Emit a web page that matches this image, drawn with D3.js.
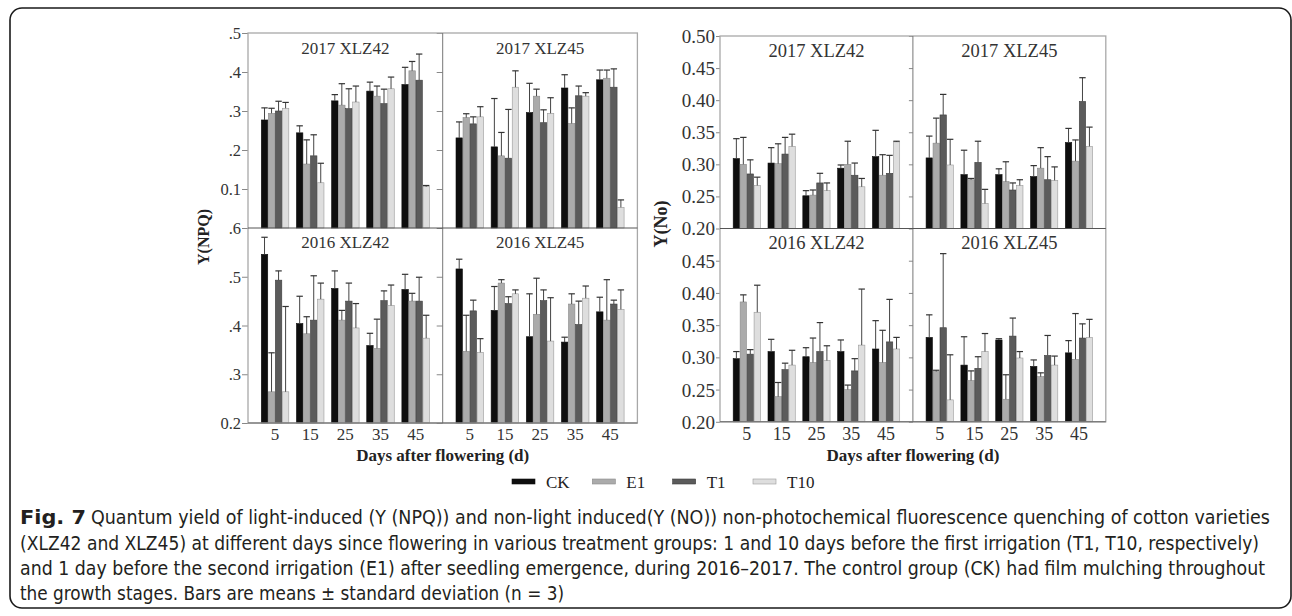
<!DOCTYPE html>
<html><head><meta charset="utf-8">
<script src="https://cdn.jsdelivr.net/npm/d3@7"></script>
<style>body{margin:0;background:#fff}</style></head>
<body>
<svg id="c" width="1292" height="616"></svg>
<script>
// ---------- data ----------
const days = [5, 15, 25, 35, 45];
const treatments = ["CK", "E1", "T1", "T10"];
const panelTitles = ["2017 XLZ42", "2017 XLZ45", "2016 XLZ42", "2016 XLZ45"];

// Y(NPQ) means, rows = CK, E1, T1, T10 ; columns = days
const npq17x42Mean = [[0.277,0.244,0.326,0.351,0.368],[0.294,0.164,0.315,0.338,0.403],[0.300,0.185,0.306,0.319,0.379],[0.307,0.116,0.323,0.357,0.106]];
const npq17x42Sd   = [[0.031,0.018,0.016,0.023,0.044],[0.013,0.062,0.055,0.026,0.024],[0.025,0.054,0.051,0.037,0.067],[0.015,0.050,0.041,0.030,0.003]];
const npq17x45Mean = [[0.231,0.208,0.296,0.359,0.380],[0.283,0.185,0.338,0.268,0.384],[0.267,0.179,0.270,0.339,0.361],[0.285,0.361,0.294,0.338,0.053]];
const npq17x45Sd   = [[0.041,0.124,0.075,0.034,0.025],[0.010,0.060,0.018,0.040,0.021],[0.018,0.125,0.033,0.025,0.047],[0.026,0.042,0.040,0.009,0.019]];
const npq16x42Mean = [[0.546,0.404,0.476,0.359,0.474],[0.264,0.383,0.411,0.353,0.450],[0.493,0.411,0.450,0.451,0.450],[0.264,0.454,0.395,0.441,0.374]];
const npq16x42Sd   = [[0.035,0.056,0.036,0.025,0.031],[0.080,0.035,0.020,0.060,0.016],[0.019,0.091,0.037,0.020,0.049],[0.175,0.033,0.050,0.042,0.047]];
const npq16x45Mean = [[0.516,0.431,0.377,0.366,0.428],[0.347,0.487,0.423,0.444,0.411],[0.430,0.445,0.451,0.402,0.444],[0.345,0.465,0.368,0.456,0.433]];
const npq16x45Sd   = [[0.020,0.049,0.088,0.010,0.030],[0.074,0.007,0.074,0.021,0.083],[0.022,0.014,0.022,0.048,0.008],[0.028,0.008,0.089,0.025,0.040]];

// Y(NO)
const no17x42Mean = [[0.309,0.302,0.251,0.294,0.312],[0.300,0.301,0.252,0.300,0.283],[0.285,0.316,0.271,0.283,0.286],[0.267,0.328,0.259,0.265,0.335]];
const no17x42Sd   = [[0.031,0.024,0.008,0.005,0.041],[0.042,0.031,0.008,0.036,0.032],[0.022,0.026,0.015,0.019,0.028],[0.013,0.019,0.012,0.013,0.001]];
const no17x45Mean = [[0.310,0.284,0.284,0.281,0.334],[0.333,0.276,0.273,0.294,0.305],[0.377,0.303,0.260,0.276,0.398],[0.299,0.239,0.267,0.275,0.328]];
const no17x45Sd   = [[0.034,0.038,0.009,0.017,0.022],[0.039,0.002,0.031,0.032,0.033],[0.032,0.033,0.011,0.036,0.037],[0.040,0.022,0.009,0.021,0.030]];
const no16x42Mean = [[0.298,0.309,0.301,0.309,0.313],[0.386,0.239,0.292,0.250,0.292],[0.305,0.281,0.309,0.279,0.324],[0.370,0.288,0.295,0.319,0.313]];
const no16x42Sd   = [[0.011,0.019,0.014,0.018,0.044],[0.011,0.022,0.038,0.007,0.050],[0.007,0.010,0.045,0.019,0.066],[0.042,0.023,0.023,0.087,0.018]];
const no16x45Mean = [[0.331,0.288,0.327,0.286,0.307],[0.278,0.264,0.235,0.270,0.297],[0.346,0.283,0.333,0.303,0.330],[0.234,0.309,0.299,0.288,0.331]];
const no16x45Sd   = [[0.035,0.044,0.002,0.010,0.019],[0.002,0.015,0.038,0.006,0.071],[0.115,0.018,0.028,0.031,0.022],[0.070,0.028,0.010,0.014,0.028]];

// tick values / labels
const npqTopTicks = [0.1, 0.2, 0.3, 0.4, 0.5];
const npqTopLabels = ["0.1", ".2", ".3", ".4", ".5"];
const npqBotTicks = [0.2, 0.3, 0.4, 0.5, 0.6];
const npqBotLabels = ["0.2", ".3", ".4", ".5", ".6"];
const noTopTicks = [0.20, 0.25, 0.30, 0.35, 0.40, 0.45, 0.50];
const noTopLabels = ["0.20", "0.25", "0.30", "0.35", "0.40", "0.45", "0.50"];
const noBotTicks = [0.20, 0.25, 0.30, 0.35, 0.40, 0.45];
const noBotLabels = ["0.20", "0.25", "0.30", "0.35", "0.40", "0.45"];

const captionLines = [
  "Quantum yield of light-induced (Y (NPQ)) and non-light induced(Y (NO)) non-photochemical fluorescence quenching of cotton varieties",
  "(XLZ42 and XLZ45) at different days since flowering in various treatment groups: 1 and 10 days before the first irrigation (T1, T10, respectively)",
  "and 1 day before the second irrigation (E1) after seedling emergence, during 2016\u20132017. The control group (CK) had film mulching throughout",
  "the growth stages. Bars are means \u00b1 standard deviation (n = 3)"
];

// ---------- styles ----------
const fills = ["#0e0e0e", "#ababab", "#5b5b5b", "#dedede"];
const strokes = ["#0e0e0e", "#8a8a8a", "#3c3c3c", "#9a9a9a"];
const serif = "'Liberation Serif','Times New Roman',serif";

const svg = d3.select("#c");

// outer frame
svg.append("rect").attr("x", 10).attr("y", 8).attr("width", 1281).attr("height", 600)
  .attr("rx", 12).attr("fill", "none").attr("stroke", "#1a1a1a").attr("stroke-width", 1.6);

const charts = [
  {x0: 248, w: 194.7, top: 33, mid: 228, bot: 423,
   domTop: [0, 0.5], domBot: [0.2, 0.6],
   ticksTop: npqTopTicks, labTop: npqTopLabels, ticksBot: npqBotTicks, labBot: npqBotLabels,
   data: [[npq17x42Mean, npq17x42Sd], [npq17x45Mean, npq17x45Sd], [npq16x42Mean, npq16x42Sd], [npq16x45Mean, npq16x45Sd]],
   tickFont: 16.5, titleFont: 17, xFont: 17, yTitle: "Y(NPQ)", yTitleX: 209, yTitleY: 237, yTitleFont: 16, tickLen: 6},
  {x0: 720, w: 192.9, top: 36, mid: 228.5, bot: 421.8,
   domTop: [0.2, 0.5], domBot: [0.2, 0.5],
   ticksTop: noTopTicks, labTop: noTopLabels, ticksBot: noBotTicks, labBot: noBotLabels,
   data: [[no17x42Mean, no17x42Sd], [no17x45Mean, no17x45Sd], [no16x42Mean, no16x42Sd], [no16x45Mean, no16x45Sd]],
   tickFont: 19, titleFont: 18.5, xFont: 18, yTitle: "Y(No)", yTitleX: 667, yTitleY: 224, yTitleFont: 18, tickLen: 4}
];

charts.forEach(ch => {
  const g = svg.append("g");
  const rows = [
    {y0: ch.top, y1: ch.mid, dom: ch.domTop, ticks: ch.ticksTop, labs: ch.labTop},
    {y0: ch.mid, y1: ch.bot, dom: ch.domBot, ticks: ch.ticksBot, labs: ch.labBot}
  ];
  rows.forEach((r, ri) => {
    const y = d3.scaleLinear().domain(r.dom).range([r.y1, r.y0]);
    for (let ci = 0; ci < 2; ci++) {
      const px0 = ch.x0 + ci * ch.w, px1 = px0 + ch.w;
      const pIdx = ri * 2 + ci;
      const [means, sds] = ch.data[pIdx];
      const x = d3.scaleBand().domain(days).range([px0, px1]).paddingInner(0.2).paddingOuter(0.37);
      const xs = d3.scaleBand().domain(treatments).range([0, x.bandwidth()]);
      const pg = g.append("g");
      // bars
      treatments.forEach((t, ti) => {
        const recs = days.map((d, di) => ({d, m: means[ti][di], s: sds[ti][di]}));
        pg.selectAll(null).data(recs).enter().append("rect")
          .attr("x", e => x(e.d) + xs(t) + 0.3)
          .attr("y", e => y(e.m))
          .attr("width", xs.bandwidth() - 0.6)
          .attr("height", e => y(r.dom[0]) - y(e.m))
          .attr("fill", fills[ti]).attr("stroke", strokes[ti]).attr("stroke-width", 0.6);
      });
      // error bars
      treatments.forEach((t, ti) => {
        const recs = days.map((d, di) => ({d, m: means[ti][di], s: sds[ti][di]}));
        const cx = e => x(e.d) + xs(t) + xs.bandwidth() / 2;
        pg.selectAll(null).data(recs).enter().append("line")
          .attr("x1", cx).attr("x2", cx)
          .attr("y1", e => y(e.m)).attr("y2", e => y(e.m + e.s))
          .attr("stroke", "#444").attr("stroke-width", 1);
        pg.selectAll(null).data(recs).enter().append("line")
          .attr("x1", e => cx(e) - 3.2).attr("x2", e => cx(e) + 3.2)
          .attr("y1", e => y(e.m + e.s)).attr("y2", e => y(e.m + e.s))
          .attr("stroke", "#333").attr("stroke-width", 1.2);
      });
      // axis (left side of each panel)
      const ax = d3.axisLeft(y).tickValues(r.ticks).tickSize(ch.tickLen).tickPadding(1)
        .tickFormat((v, i) => ci === 0 ? r.labs[i] : "");
      const axg = pg.append("g").attr("transform", `translate(${px0},0)`).call(ax);
      axg.select(".domain").remove();
      axg.selectAll(".tick line").attr("stroke", "#888");
      axg.selectAll(".tick text").attr("font-family", serif).attr("font-size", ch.tickFont)
        .attr("fill", "#333").attr("dy", "0.34em");
      // panel title
      pg.append("text").attr("x", (px0 + px1) / 2).attr("y", r.y0 + (ri === 0 ? 21 : 20))
        .attr("text-anchor", "middle").attr("font-family", serif).attr("font-size", ch.titleFont)
        .attr("fill", "#333").text(panelTitles[pIdx]);
      // x labels
      if (ri === 1) {
        pg.selectAll(null).data(days).enter().append("text")
          .attr("x", d => x(d) + x.bandwidth() / 2).attr("y", 440)
          .attr("text-anchor", "middle").attr("font-family", serif).attr("font-size", ch.xFont)
          .attr("fill", "#333").text(d => d);
      }
    }
  });
  // frame lines
  const x1 = ch.x0 + 2 * ch.w;
  g.append("rect").attr("x", ch.x0).attr("y", ch.top).attr("width", 2 * ch.w).attr("height", ch.bot - ch.top)
    .attr("fill", "none").attr("stroke", "#a8a8a8").attr("stroke-width", 1.3);
  g.append("line").attr("x1", ch.x0 + ch.w).attr("x2", ch.x0 + ch.w).attr("y1", ch.top).attr("y2", ch.bot)
    .attr("stroke", "#777").attr("stroke-width", 1);
  g.append("line").attr("x1", ch.x0).attr("x2", x1).attr("y1", ch.mid).attr("y2", ch.mid)
    .attr("stroke", "#555").attr("stroke-width", 1);
  g.append("line").attr("x1", ch.x0).attr("x2", x1).attr("y1", ch.bot).attr("y2", ch.bot)
    .attr("stroke", "#666").attr("stroke-width", 1);
  // y title
  g.append("text").attr("transform", `translate(${ch.yTitleX},${ch.yTitleY}) rotate(-90)`)
    .attr("text-anchor", "middle").attr("font-family", serif).attr("font-weight", "bold")
    .attr("font-size", ch.yTitleFont).attr("fill", "#222").text(ch.yTitle);
  // x title
  g.append("text").attr("x", ch.x0 + ch.w).attr("y", 461).attr("text-anchor", "middle")
    .attr("font-family", serif).attr("font-weight", "bold").attr("font-size", 17).attr("fill", "#222")
    .text("Days after flowering (d)");
});

// legend
const legX = d3.scalePoint().domain(treatments).range([512, 753]);
const lg = svg.append("g");
treatments.forEach((t, i) => {
  lg.append("rect").attr("x", legX(t)).attr("y", 479).attr("width", 23).attr("height", 5)
    .attr("fill", fills[i]).attr("stroke", strokes[i]).attr("stroke-width", 0.6);
  lg.append("text").attr("x", legX(t) + 34).attr("y", 488).attr("font-family", serif)
    .attr("font-size", 17).attr("fill", "#222").text(t);
});

// caption
const capFont = "'Liberation Sans Narrow','DejaVu Sans Condensed','Roboto Condensed',sans-serif";
const capY = [524, 550, 575, 600];
const capEnd = [1270, 1259, 1265, 564];
svg.append("text").attr("x", 20).attr("y", capY[0]).attr("font-family", capFont)
  .attr("font-weight", "bold").attr("font-size", 19.5).attr("fill", "#231f20")
  .attr("textLength", 66).attr("lengthAdjust", "spacingAndGlyphs").text("Fig. 7");
captionLines.forEach((ln, i) => {
  const sx = i === 0 ? 91 : 20;
  svg.append("text").attr("x", sx).attr("y", capY[i]).attr("font-family", capFont)
    .attr("font-size", 19.5).attr("fill", "#231f20")
    .attr("textLength", capEnd[i] - sx).attr("lengthAdjust", "spacingAndGlyphs").text(ln);
});
</script>
</body></html>
